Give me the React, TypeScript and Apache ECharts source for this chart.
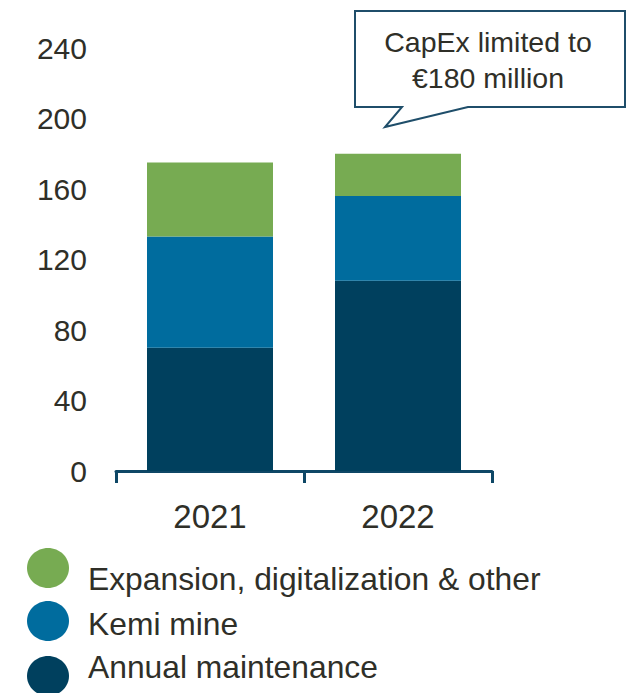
import React, { useEffect, useRef } from "react";
import * as echarts from "echarts";

const categories = ["2021", "2022"];
const seriesNames = ["Annual maintenance", "Kemi mine", "Expansion, digitalization & other"];
const maintenance = [70, 108];
const kemi = [63, 48];
const expansion = [42, 24];
const colors = ["#00405E", "#006C9E", "#77AB52"];
const yTicks = { min: 0, max: 240, interval: 40 };
const calloutLines = ["CapEx limited to", "€180 million"];

const TEXT = "#2F2F28";
const FONT = "'Liberation Sans', Arial, sans-serif";

export default function App() {
  const ref = useRef<HTMLDivElement>(null);
  useEffect(() => {
    if (!ref.current) return;
    const chart = echarts.init(ref.current, undefined, { renderer: "svg" });
    const values = [maintenance, kemi, expansion];
    const legendY = [568, 621, 676];
    const legendTextY = [579, 624, 667];
    const legendGraphics: any[] = [];
    [2, 1, 0].forEach((si, i) => {
      legendGraphics.push({
        type: "ellipse",
        shape: { cx: 48, cy: legendY[i], rx: 21, ry: 20 },
        style: { fill: colors[si] },
      });
      legendGraphics.push({
        type: "text",
        x: 88,
        y: legendTextY[i],
        style: {
          text: seriesNames[si],
          fill: TEXT,
          font: `31.8px ${FONT}`,
          textVerticalAlign: "middle",
          verticalAlign: "middle",
        },
      });
    });
    chart.setOption({
      animation: false,
      grid: { left: 116, right: 144, top: 48, bottom: 222, containLabel: false },
      xAxis: {
        type: "category",
        data: categories,
        axisLine: { show: true, lineStyle: { color: "#0E4766", width: 3 } },
        axisTick: { show: true, interval: 0, inside: false, length: 12, lineStyle: { color: "#0E4766", width: 3 } },
        axisLabel: { color: TEXT, fontSize: 33, fontFamily: FONT, margin: 29 },
      },
      yAxis: {
        type: "value",
        min: yTicks.min,
        max: yTicks.max,
        interval: yTicks.interval,
        axisLine: { show: false },
        axisTick: { show: false },
        splitLine: { show: false },
        axisLabel: { color: TEXT, fontSize: 30, fontFamily: FONT, margin: 29 },
      },
      series: values.map((v, i) => ({
        type: "bar",
        name: seriesNames[i],
        stack: "total",
        data: v,
        barWidth: 126,
        itemStyle: { color: colors[i] },
      })),
      graphic: [
        {
          type: "polygon",
          shape: {
            points: [
              [355, 11],
              [625, 11],
              [625, 107],
              [468, 107],
              [385, 127],
              [402, 107],
              [355, 107],
            ],
          },
          style: { fill: "#ffffff", stroke: "#1F4E6A", lineWidth: 2 },
        },
        ...calloutLines.map((t, i) => ({
          type: "text",
          x: 488,
          y: 42 + i * 36,
          style: {
            text: t,
            fill: TEXT,
            font: `28.5px ${FONT}`,
            textAlign: "center",
            align: "center",
            textVerticalAlign: "middle",
            verticalAlign: "middle",
          },
        })),
        ...legendGraphics,
      ],
    });
    return () => chart.dispose();
  }, []);
  return <div ref={ref} style={{ width: 636, height: 693, position: "absolute", left: 0, top: 0 }} />;
}
